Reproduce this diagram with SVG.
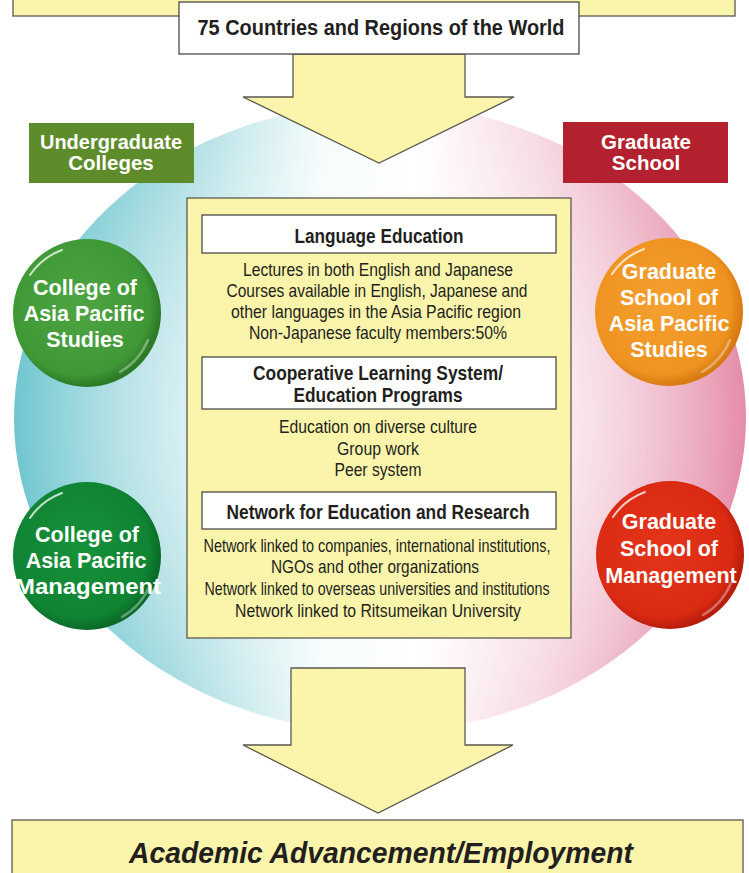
<svg xmlns="http://www.w3.org/2000/svg" width="749" height="873" viewBox="0 0 749 873">
<style>
.yel{fill:#fbf5ab;stroke:#5a5a50;stroke-width:1.3}
.hdr{fill:#ffffff;stroke:#4a4a45;stroke-width:1.3}
.t{font-family:"Liberation Sans",Arial,sans-serif;fill:#231f20;text-anchor:middle}
.b{font-weight:bold}
.body{font-size:18.5px}
.head{font-size:21px;font-weight:bold}
.w{font-family:"Liberation Sans",Arial,sans-serif;fill:#ffffff;text-anchor:middle;font-weight:bold;font-size:21.5px}
.lbl{font-size:20.5px}
.hl{fill:none;stroke:#ffffff;stroke-width:2;stroke-linecap:round;opacity:0.75}
.hl2{fill:none;stroke:#ffffff;stroke-width:2.5;stroke-linecap:round;opacity:0.35}
</style>
<defs>
<linearGradient id="sph" x1="0" y1="0" x2="1" y2="0">
<stop offset="0" stop-color="#6fc6d0"/>
<stop offset="0.22" stop-color="#a9dde2"/>
<stop offset="0.42" stop-color="#f4fbfb"/>
<stop offset="0.55" stop-color="#ffffff"/>
<stop offset="0.72" stop-color="#f6d9e2"/>
<stop offset="1" stop-color="#e58ca9"/>
</linearGradient>
<radialGradient id="sphw" cx="0.5" cy="0.5" r="0.5">
<stop offset="0" stop-color="#ffffff" stop-opacity="0.9"/>
<stop offset="0.55" stop-color="#ffffff" stop-opacity="0.5"/>
<stop offset="1" stop-color="#ffffff" stop-opacity="0"/>
</radialGradient>
<radialGradient id="g1" cx="0.45" cy="0.45" r="0.55">
<stop offset="0" stop-color="#4ea542"/>
<stop offset="0.85" stop-color="#3f9836"/>
<stop offset="1" stop-color="#2c7a27"/>
</radialGradient>
<radialGradient id="g2" cx="0.45" cy="0.45" r="0.55">
<stop offset="0" stop-color="#17913a"/>
<stop offset="0.85" stop-color="#0f8433"/>
<stop offset="1" stop-color="#0a6a27"/>
</radialGradient>
<radialGradient id="g3" cx="0.45" cy="0.45" r="0.55">
<stop offset="0" stop-color="#f5a030"/>
<stop offset="0.85" stop-color="#ef9320"/>
<stop offset="1" stop-color="#d77a12"/>
</radialGradient>
<radialGradient id="g4" cx="0.45" cy="0.45" r="0.55">
<stop offset="0" stop-color="#e4351a"/>
<stop offset="0.85" stop-color="#db2a12"/>
<stop offset="1" stop-color="#b81d0c"/>
</radialGradient>
</defs>

<rect width="749" height="873" fill="#ffffff"/>

<g id="sphere">
<ellipse cx="380" cy="418" rx="366" ry="314" fill="url(#sph)"/>
<ellipse cx="380" cy="418" rx="366" ry="314" fill="url(#sphw)"/>
</g>

<g id="top-band">
<rect x="13" y="-5" width="722" height="21" class="yel"/>
</g>

<g id="connectors">
<polygon class="yel" points="293,54 465,54 465,97 514,97 379,163 243,97 293,97"/>
<polygon class="yel" points="291,668 465,668 465,745 513,745 378,813 243,745 291,745"/>
</g>

<g id="origin">
<rect x="179" y="2" width="400" height="52" class="hdr"/>
<text class="t b" x="381" y="35" font-size="21.5" textLength="367" lengthAdjust="spacingAndGlyphs">75 Countries and Regions of the World</text>
</g>

<g id="undergrad-label">
<rect x="29" y="123" width="165" height="60" fill="#5e8c2b"/>
<text class="w lbl" x="111" y="149" textLength="142" lengthAdjust="spacingAndGlyphs">Undergraduate</text>
<text class="w lbl" x="111" y="170">Colleges</text>
</g>

<g id="grad-label">
<rect x="563" y="122" width="165" height="61" fill="#b3212e"/>
<text class="w lbl" x="646" y="149">Graduate</text>
<text class="w lbl" x="646" y="170">School</text>
</g>

<g id="core">
<rect x="187" y="198" width="384" height="440" class="yel"/>
<rect x="202" y="215" width="354" height="38" class="hdr"/>
<text class="t head" x="379" y="243" textLength="169" lengthAdjust="spacingAndGlyphs">Language Education</text>
<text class="t body" x="378" y="276" textLength="270" lengthAdjust="spacingAndGlyphs">Lectures in both English and Japanese</text>
<text class="t body" x="377" y="297" textLength="301" lengthAdjust="spacingAndGlyphs">Courses available in English, Japanese and</text>
<text class="t body" x="376" y="318" textLength="290" lengthAdjust="spacingAndGlyphs">other languages in the Asia Pacific region</text>
<text class="t body" x="378" y="339" textLength="258" lengthAdjust="spacingAndGlyphs">Non-Japanese faculty members:50%</text>

<rect x="202" y="357" width="354" height="52" class="hdr"/>
<text class="t head" x="378" y="380" textLength="250" lengthAdjust="spacingAndGlyphs">Cooperative Learning System/</text>
<text class="t head" x="378" y="402" textLength="169" lengthAdjust="spacingAndGlyphs">Education Programs</text>
<text class="t body" x="378" y="433" textLength="198" lengthAdjust="spacingAndGlyphs">Education on diverse culture</text>
<text class="t body" x="378" y="455" textLength="82" lengthAdjust="spacingAndGlyphs">Group work</text>
<text class="t body" x="378" y="476" textLength="87" lengthAdjust="spacingAndGlyphs">Peer system</text>

<rect x="202" y="492" width="354" height="37" class="hdr"/>
<text class="t head" x="378" y="519" textLength="303" lengthAdjust="spacingAndGlyphs">Network for Education and Research</text>
<text class="t body" x="377" y="552" textLength="347" lengthAdjust="spacingAndGlyphs">Network linked to companies, international institutions,</text>
<text class="t body" x="375" y="573" textLength="208" lengthAdjust="spacingAndGlyphs">NGOs and other organizations</text>
<text class="t body" x="377" y="595" textLength="345" lengthAdjust="spacingAndGlyphs">Network linked to overseas universities and institutions</text>
<text class="t body" x="378" y="617" textLength="286" lengthAdjust="spacingAndGlyphs">Network linked to Ritsumeikan University</text>
</g>

<g id="college-aps">
<circle cx="87" cy="313" r="74" fill="url(#g1)"/>
<path class="hl" d="M30,275 A66,66 0 0 1 62,250"/>
<path class="hl2" d="M148,340 A66,66 0 0 1 120,372"/>
<text class="w" x="85" y="295">College of</text>
<text class="w" x="84" y="321">Asia Pacific</text>
<text class="w" x="85" y="347">Studies</text>
</g>

<g id="college-apm">
<circle cx="87" cy="556" r="74" fill="url(#g2)"/>
<path class="hl" d="M30,518 A66,66 0 0 1 62,493"/>
<path class="hl2" d="M150,585 A66,66 0 0 1 122,617"/>
<text class="w" x="87" y="542">College of</text>
<text class="w" x="86" y="568">Asia Pacific</text>
<text class="w" x="88" y="594" textLength="146" lengthAdjust="spacingAndGlyphs">Management</text>
</g>

<g id="grad-aps">
<circle cx="669" cy="312" r="74" fill="url(#g3)"/>
<path class="hl" d="M612,274 A66,66 0 0 1 644,249"/>
<path class="hl2" d="M730,340 A66,66 0 0 1 702,372"/>
<text class="w" x="669" y="279">Graduate</text>
<text class="w" x="669" y="305">School of</text>
<text class="w" x="669" y="331">Asia Pacific</text>
<text class="w" x="669" y="357">Studies</text>
</g>

<g id="grad-m">
<circle cx="670" cy="555" r="74" fill="url(#g4)"/>
<path class="hl" d="M613,517 A66,66 0 0 1 645,492"/>
<path class="hl2" d="M731,583 A66,66 0 0 1 703,615"/>
<text class="w" x="669" y="529">Graduate</text>
<text class="w" x="669" y="556">School of</text>
<text class="w" x="671" y="583">Management</text>
</g>

<g id="outcome">
<rect x="12" y="820" width="731" height="60" class="yel"/>
<text class="t b" x="381" y="863" font-size="30" font-style="italic" textLength="504" lengthAdjust="spacingAndGlyphs">Academic Advancement/Employment</text>
</g>
</svg>
